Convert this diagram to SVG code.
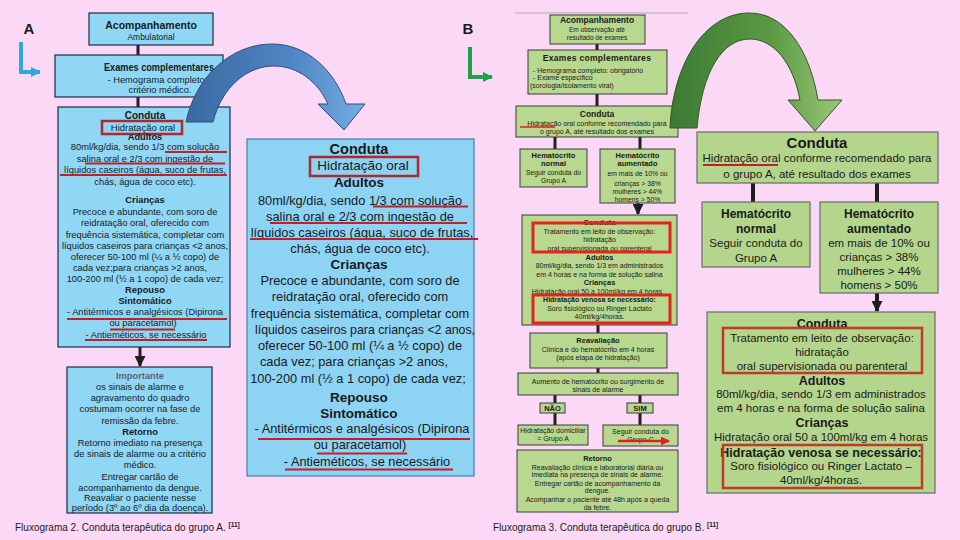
<svg xmlns="http://www.w3.org/2000/svg" width="960" height="540" viewBox="0 0 960 540">
<defs>
<style>
text{font-family:"Liberation Sans",Arial,sans-serif;fill:#1a1a1a}
.c{text-anchor:middle}
.b{font-weight:bold}
.boxA{fill:#8fd7f5;stroke:#1c2b45;stroke-width:1.2}
.boxA2{fill:#8dd3f3;stroke:#4a7fa8;stroke-width:1.2}
.boxB{fill:#b8d78f;stroke:#3a3a3a;stroke-width:1}
.boxB2{fill:#b4d58c;stroke:#6a6a6a;stroke-width:1.2}
.conA{stroke:#2b1b2b;stroke-width:3;fill:none}
.conB{stroke:#222;stroke-width:3;fill:none}
.conB2{stroke:#1e1e1e;stroke-width:4;fill:none}
.ul{stroke:#c0202a;stroke-width:2.2;fill:none}
.rb{fill:none;stroke:#b0282e;stroke-width:2.5}
.rb2{fill:none;stroke:#e3241b;stroke-width:3}
.rb3{fill:none;stroke:#c0392b;stroke-width:2.5}
.s1{font-size:9.3px}
.s2{font-size:12.8px}
.s3{font-size:7px}
.s4{font-size:11.5px}
</style>
<marker id="ah" viewBox="0 0 10 10" refX="9" refY="5" markerWidth="11" markerHeight="11" markerUnits="userSpaceOnUse" orient="auto">
<path d="M0,0 L10,5 L0,10 Z" fill="#1e1e1e"/>
</marker>
<marker id="ahr" viewBox="0 0 10 10" refX="9" refY="5" markerWidth="9" markerHeight="9" markerUnits="userSpaceOnUse" orient="auto">
<path d="M0,0 L10,5 L0,10 Z" fill="#e02020"/>
</marker>
<marker id="ahblue" viewBox="0 0 10 10" refX="9" refY="5" markerWidth="10" markerHeight="10" markerUnits="userSpaceOnUse" orient="auto">
<path d="M0,0 L10,5 L0,10 Z" fill="#29abe2"/>
</marker>
<marker id="ahgreen" viewBox="0 0 10 10" refX="9" refY="5" markerWidth="10" markerHeight="10" markerUnits="userSpaceOnUse" orient="auto">
<path d="M0,0 L10,5 L0,10 Z" fill="#1fa04a"/>
</marker>
<linearGradient id="gBlue" x1="0" y1="0" x2="1" y2="0">
<stop offset="0" stop-color="#3a6aa2"/>
<stop offset="0.6" stop-color="#4f86c4"/>
<stop offset="1" stop-color="#76aee6"/>
</linearGradient>
<linearGradient id="gGreen" x1="0" y1="0" x2="1" y2="0">
<stop offset="0" stop-color="#3c7a34"/>
<stop offset="0.6" stop-color="#5c9a44"/>
<stop offset="1" stop-color="#9cc87a"/>
</linearGradient>
</defs>

<rect x="0" y="0" width="960" height="540" fill="#fbd8f6"/>

<!-- Labels -->
<g id="labelA">
<text x="29" y="34" class="c b" font-size="15">A</text>
<path d="M21 42 V72 H40" stroke="#29abe2" stroke-width="4" fill="none" marker-end="url(#ahblue)"/>
</g>
<g id="labelB">
<text x="468" y="34" class="c b" font-size="15">B</text>
<path d="M470 47 V77 H492" stroke="#1fa04a" stroke-width="4" fill="none" marker-end="url(#ahgreen)"/>
</g>
<line x1="515" y1="13" x2="688" y2="13" stroke="#b0a8b0" stroke-width="1"/>

<!-- Connectors -->
<g id="connectors">
<line class="conA" x1="138" y1="45" x2="138" y2="55"/>
<line class="conA" x1="138" y1="97" x2="138" y2="107"/>
<line class="conA" x1="140" y1="347" x2="140" y2="366" marker-end="url(#ah)"/>
<line class="conB" x1="597" y1="44" x2="597" y2="50"/>
<line class="conB" x1="597" y1="94" x2="597" y2="106"/>
<line class="conB" x1="555" y1="137" x2="555" y2="149"/>
<line class="conB" x1="640" y1="137" x2="640" y2="149"/>
<line class="conB" x1="638" y1="203" x2="638" y2="214" marker-end="url(#ah)"/>
<line class="conB" x1="598" y1="325" x2="598" y2="333"/>
<line class="conB" x1="598" y1="368" x2="598" y2="373"/>
<line class="conB" x1="555" y1="395" x2="555" y2="403"/>
<line class="conB" x1="640" y1="395" x2="640" y2="403"/>
<line class="conB" x1="555" y1="413" x2="555" y2="425"/>
<line class="conB" x1="640" y1="413" x2="640" y2="425"/>
<line class="conB2" x1="753" y1="183" x2="753" y2="202"/>
<line class="conB2" x1="877" y1="183" x2="877" y2="202"/>
<line class="conB2" x1="877" y1="293" x2="877" y2="311" marker-end="url(#ah)"/>
</g>

<!-- Group A flowchart (left) -->
<g id="a1">
<rect class="boxA" x="89" y="13" width="124" height="32"/>
<text x="151" y="29" class="c b" font-size="10.5">Acompanhamento</text>
<text x="151" y="40" class="c" font-size="8.5">Ambulatorial</text>
</g>
<g id="a2">
<rect class="boxA" x="55" y="55" width="168" height="42"/>
<text x="159" y="70.5" class="c b" font-size="10" textLength="110" lengthAdjust="spacingAndGlyphs">Exames complementares</text>
<text x="160" y="82.5" class="c s1">- Hemograma completo a</text>
<text x="160" y="93" class="c s1">critério médico.</text>
</g>
<g id="a3">
<rect class="boxA" x="58" y="107" width="172" height="240"/>
<text x="145" y="119" class="c b" font-size="10">Conduta</text>
<text x="143" y="130.5" class="c" font-size="9.5">Hidratação oral</text>
<rect class="rb" x="102" y="121" width="80" height="13"/>
<text x="145" y="140" class="c b s1">Adultos</text>
<text x="145" y="150" class="c s1">80ml/kg/dia, sendo 1/3 com solução</text>
<text x="145" y="161.5" class="c s1">salina oral e 2/3 com ingestão de</text>
<text x="145" y="173" class="c s1">líquidos caseiros (água, suco de frutas,</text>
<text x="145" y="184.5" class="c s1">chás, água de coco etc).</text>
<text x="145" y="203" class="c b s1">Crianças</text>
<text x="145" y="215" class="c s1">Precoce e abundante, com soro de</text>
<text x="145" y="226" class="c s1">reidratação oral, oferecido com</text>
<text x="145" y="237.5" class="c s1">frequência sistemática, completar com</text>
<text x="145" y="249" class="c s1">líquidos caseiros para crianças &lt;2 anos,</text>
<text x="145" y="260" class="c s1">oferecer 50-100 ml (¼ a ½ copo) de</text>
<text x="140" y="271" class="c s1">cada vez;para crianças &gt;2 anos,</text>
<text x="145" y="282" class="c s1">100-200 ml (½ a 1 copo) de cada vez;</text>
<text x="145" y="293" class="c b s1">Repouso</text>
<text x="145" y="304" class="c b s1">Sintomático</text>
<text x="145" y="315" class="c s1">- Antitérmicos e analgésicos (Dipirona</text>
<text x="143" y="326" class="c s1">ou paracetamol)</text>
<text x="146" y="337.5" class="c s1">- Antieméticos, se necessário</text>
<line class="ul" x1="165" y1="152" x2="227" y2="152"/>
<line class="ul" x1="85" y1="163.5" x2="225" y2="163.5"/>
<line class="ul" x1="60" y1="175" x2="227" y2="175"/>
<line class="ul" x1="67" y1="319" x2="227" y2="319"/>
<line class="ul" x1="110" y1="329.5" x2="175" y2="329.5"/>
<line class="ul" x1="85" y1="340" x2="207" y2="340"/>
</g>
<g id="a4">
<rect class="boxA" x="67" y="367" width="145" height="146"/>
<text x="140" y="378.5" class="c b s1" style="fill:#6b5b7b">Importante</text>
<text x="140" y="390" class="c s1">os sinais de alarme e</text>
<text x="140" y="400.5" class="c s1">agravamento do quadro</text>
<text x="140" y="411.5" class="c s1">costumam ocorrer na fase de</text>
<text x="140" y="423.5" class="c s1">remissão da febre.</text>
<text x="140" y="435" class="c b s1">Retorno</text>
<text x="140" y="446" class="c s1">Retorno imediato na presença</text>
<text x="140" y="457" class="c s1">de sinais de alarme  ou a critério</text>
<text x="140" y="468" class="c s1">médico.</text>
<text x="140" y="479.5" class="c s1">Entregar cartão de</text>
<text x="140" y="490.5" class="c s1">acompanhamento da dengue.</text>
<text x="140" y="500.5" class="c s1">Reavaliar o paciente nesse</text>
<text x="140" y="511" class="c s1">período (3º ao 6º dia da doença).</text>
</g>

<!-- Blue curved arrow -->
<path d="M186 122 C195 78 230 44 272 44 C307 44 334 70 346 104 L365 104 L344 130 L318 104 L328 104 C318 82 298 66 274 66 C248 66 222 86 213 122 Z" fill="url(#gBlue)" stroke="#2e4f7a" stroke-width="1"/>

<!-- Enlarged Group A conduta -->
<g id="a3zoom">
<rect class="boxA2" x="247" y="139" width="227" height="337"/>
<text x="359" y="154" class="c b" font-size="14.5">Conduta</text>
<text x="363" y="170" class="c" font-size="13.5">Hidratação oral</text>
<rect class="rb" x="310" y="157" width="108" height="19"/>
<text x="359" y="186.5" class="c b" font-size="13.5">Adultos</text>
<text x="360" y="204.5" class="c s2">80ml/kg/dia, sendo 1/3 com solução</text>
<text x="360" y="220.5" class="c s2">salina oral e 2/3 com ingestão de</text>
<text x="362" y="236.5" class="c s2">líquidos caseiros (água, suco de frutas,</text>
<text x="360" y="252.5" class="c s2">chás, água de coco etc).</text>
<text x="359" y="268.5" class="c b" font-size="13.5">Crianças</text>
<text x="360" y="284.5" class="c s2">Precoce e abundante, com soro de</text>
<text x="360" y="301" class="c s2">reidratação oral, oferecido com</text>
<text x="360" y="317.5" class="c s2">frequência sistemática, completar com</text>
<text x="365" y="333.5" class="c s2" textLength="220" lengthAdjust="spacingAndGlyphs">líquidos caseiros para crianças &lt;2 anos,</text>
<text x="360" y="349.5" class="c s2">oferecer 50-100 ml (¼ a ½ copo) de</text>
<text x="354" y="366" class="c s2">cada vez; para crianças &gt;2 anos,</text>
<text x="358" y="382.5" class="c s2">100-200 ml (½ a 1 copo) de cada vez;</text>
<text x="359" y="401.5" class="c b" font-size="13.5">Repouso</text>
<text x="359" y="417.5" class="c b" font-size="13.5">Sintomático</text>
<text x="362" y="432.5" class="c s2">- Antitérmicos e analgésicos (Dipirona</text>
<text x="360" y="449" class="c s2">ou paracetamol)</text>
<text x="367" y="466" class="c s2">- Antieméticos, se necessário</text>
<line class="ul" x1="373" y1="206.5" x2="468" y2="206.5" stroke-width="2.5"/>
<line class="ul" x1="270" y1="223" x2="467" y2="223" stroke-width="2.5"/>
<line class="ul" x1="250" y1="239" x2="478" y2="239" stroke-width="2.5"/>
<line class="ul" x1="258" y1="439" x2="470" y2="439" stroke-width="2.5"/>
<line class="ul" x1="317" y1="453.5" x2="407" y2="453.5" stroke-width="2.5"/>
<line class="ul" x1="285" y1="469.5" x2="453" y2="469.5" stroke-width="2.5"/>
</g>

<!-- Group B flowchart -->
<g id="b1">
<rect class="boxB" x="550" y="15" width="95" height="29"/>
<text x="597" y="23" class="c b" font-size="8.5">Acompanhamento</text>
<text x="597" y="32" class="c" font-size="6.5">Em observação até</text>
<text x="597" y="40" class="c" font-size="6.5">resultado de exames</text>
</g>
<g id="b2">
<rect class="boxB" x="528" y="50" width="139" height="44"/>
<text x="597" y="60.5" class="c b" font-size="8.5" letter-spacing="0.3">Exames complementares</text>
<text x="533" y="73" class="s3">- Hemograma completo: obrigatório</text>
<text x="533" y="80" class="s3">- Exame específico</text>
<text x="530" y="88" class="s3">(sorologia/isolamento viral)</text>
</g>
<g id="b3">
<rect class="boxB" x="516" y="106" width="162" height="31"/>
<text x="597" y="116.5" class="c b" font-size="8.5">Conduta</text>
<text x="597" y="125.5" class="c s3">Hidratação oral conforme recomendado para</text>
<text x="597" y="134" class="c s3">o grupo A, até resultado dos exames</text>
<line x1="520" y1="127" x2="555" y2="127" stroke="#e0201a" stroke-width="1.6"/>
</g>
<g id="b4">
<rect class="boxB" x="520" y="149" width="67" height="38"/>
<text x="553.5" y="158" class="c b" font-size="7.5">Hematócrito</text>
<text x="553.5" y="166" class="c b" font-size="7.5">normal</text>
<text x="553.5" y="175" class="c" font-size="6.8">Seguir conduta do</text>
<text x="553.5" y="183" class="c" font-size="6.8">Grupo A</text>
</g>
<g id="b5">
<rect class="boxB" x="600" y="149" width="75" height="54"/>
<text x="637.5" y="158" class="c b" font-size="7.5">Hematócrito</text>
<text x="637.5" y="166" class="c b" font-size="7.5">aumentado</text>
<text x="637.5" y="176" class="c" font-size="6.8">em mais de 10% ou</text>
<text x="637.5" y="185.5" class="c" font-size="6.8">crianças &gt; 38%</text>
<text x="637.5" y="193.5" class="c" font-size="6.8">mulheres &gt; 44%</text>
<text x="637.5" y="201.5" class="c" font-size="6.8">homens &gt; 50%</text>
</g>
<g id="b6">
<rect class="boxB" x="522" y="215" width="155" height="110"/>
<text x="599.5" y="225" class="c b" font-size="8">Conduta</text>
<text x="599.5" y="234" class="c s3">Tratamento em leito de observação:</text>
<text x="599.5" y="242" class="c s3">hidratação</text>
<text x="599.5" y="251" class="c s3">oral supervisionada ou parenteral</text>
<text x="599.5" y="260" class="c b" font-size="7.5">Adultos</text>
<text x="599.5" y="268" class="c s3">80ml/kg/dia, sendo 1/3 em administrados</text>
<text x="599.5" y="276.5" class="c s3">em 4 horas e na forma de solução salina</text>
<text x="599.5" y="285" class="c b" font-size="7.5">Crianças</text>
<text x="597" y="293.5" class="c s3">Hidratação oral 50 a 100ml/kg em 4 horas</text>
<text x="599.5" y="302" class="c b s3">Hidratação venosa se necessário:</text>
<text x="599.5" y="310.5" class="c s3">Soro fisiológico ou Ringer Lactato</text>
<text x="599.5" y="319" class="c s3">40ml/kg/4horas.</text>
<rect class="rb2" x="533" y="223" width="137" height="29"/>
<rect class="rb2" x="533" y="295" width="137" height="28"/>
</g>
<g id="b7">
<rect class="boxB" x="530" y="333" width="137" height="35"/>
<text x="598" y="343" class="c b" font-size="7.5">Reavaliação</text>
<text x="598" y="352" class="c s3">Clínica e do hematócrito em 4 horas</text>
<text x="598" y="360" class="c s3">(após etapa de hidratação)</text>
</g>
<g id="b8">
<rect class="boxB" x="518" y="373" width="160" height="22"/>
<text x="598" y="383.5" class="c s3">Aumento de hematócrito ou surgimento de</text>
<text x="598" y="391.5" class="c s3">sinais de alarme</text>
</g>
<g id="b9">
<rect class="boxB" x="540" y="403" width="25" height="10"/>
<text x="552.5" y="411" class="c b" font-size="7.5">NÃO</text>
</g>
<g id="b10">
<rect class="boxB" x="627" y="403" width="26" height="10"/>
<text x="640" y="411" class="c b" font-size="7.5">SIM</text>
</g>
<g id="b11">
<rect class="boxB" x="518" y="425" width="70" height="20"/>
<text x="553" y="433" class="c s3">Hidratação domiciliar</text>
<text x="553" y="441" class="c s3">= Grupo A</text>
</g>
<g id="b12">
<rect class="boxB" x="603" y="425" width="75" height="21"/>
<text x="640.5" y="434" class="c s3">Seguir conduta do</text>
<text x="640.5" y="442" class="c s3">Grupo C</text>
<line x1="618" y1="441" x2="669" y2="441" stroke="#e02020" stroke-width="2.5" marker-end="url(#ahr)"/>
</g>
<g id="b13">
<rect class="boxB" x="517" y="450" width="161" height="62"/>
<text x="597.5" y="460.5" class="c b" font-size="7.5">Retorno</text>
<text x="597.5" y="469.5" class="c s3">Reavaliação clínica e laboratorial diária ou</text>
<text x="597.5" y="477" class="c s3">imediata na presença de sinais de alarme.</text>
<text x="597.5" y="485.5" class="c s3">Entregar cartão de acompanhamento da</text>
<text x="597.5" y="493" class="c s3">dengue.</text>
<text x="597.5" y="501.5" class="c s3">Acompanhar o paciente até 48h após a queda</text>
<text x="597.5" y="509.5" class="c s3">da febre.</text>
</g>

<!-- Green curved arrow -->
<path d="M670 128 C673 64 704 14 748 13 C786 12 810 52 818 100 L842 100 L815 131 L788 100 L800 100 C793 62 773 39 750 39 C722 39 702 72 697 128 Z" fill="url(#gGreen)" stroke="#2f5a28" stroke-width="1"/>

<!-- Enlarged Group B -->
<g id="c1">
<rect class="boxB2" x="697" y="132" width="241" height="51"/>
<text x="817" y="147.5" class="c b" font-size="15">Conduta</text>
<text x="817" y="162" class="c s4">Hidratação oral conforme recomendado para</text>
<text x="817" y="177.5" class="c s4">o grupo A, até resultado dos exames</text>
<line x1="703" y1="165" x2="778" y2="165" stroke="#c0202a" stroke-width="2"/>
</g>
<g id="c2">
<rect class="boxB2" x="702" y="202" width="108" height="65"/>
<text x="756" y="217.5" class="c b" font-size="12">Hematócrito</text>
<text x="756" y="232.5" class="c b" font-size="12">normal</text>
<text x="756" y="247" class="c s4">Seguir conduta do</text>
<text x="756" y="261.5" class="c s4">Grupo A</text>
</g>
<g id="c3">
<rect class="boxB2" x="820" y="202" width="118" height="91"/>
<text x="879" y="217.5" class="c b" font-size="12">Hematócrito</text>
<text x="879" y="232.5" class="c b" font-size="12">aumentado</text>
<text x="879" y="246.5" class="c s4">em mais de 10% ou</text>
<text x="879" y="261" class="c s4">crianças &gt; 38%</text>
<text x="879" y="274.5" class="c s4">mulheres &gt; 44%</text>
<text x="879" y="288.5" class="c s4">homens &gt; 50%</text>
</g>
<g id="c4">
<rect class="boxB2" x="707" y="312" width="228" height="181"/>
<text x="822" y="327.5" class="c b" font-size="12.5">Conduta</text>
<text x="822" y="342" class="c s4">Tratamento em leito de observação:</text>
<text x="822" y="356" class="c s4">hidratação</text>
<text x="822" y="370" class="c s4">oral supervisionada ou parenteral</text>
<text x="822" y="384.5" class="c b" font-size="12.5">Adultos</text>
<text x="821" y="398" class="c s4">80ml/kg/dia, sendo 1/3 em administrados</text>
<text x="821" y="412" class="c s4">em 4 horas e na forma de solução salina</text>
<text x="822" y="426.5" class="c b" font-size="12.5">Crianças</text>
<text x="821" y="441" class="c s4">Hidratação oral 50 a 100ml/kg em 4 horas</text>
<text x="821" y="456.5" class="c b" font-size="12.5">Hidratação venosa se necessário:</text>
<text x="821" y="470" class="c s4">Soro fisiológico ou Ringer Lactato –</text>
<text x="821" y="484" class="c s4">40ml/kg/4horas.</text>
<rect class="rb3" x="723" y="328" width="199" height="45"/>
<rect class="rb3" x="723" y="445" width="199" height="43"/>
</g>

<!-- Captions -->
<text x="15" y="531" font-size="10" style="fill:#222">Fluxograma 2. Conduta terapêutica do grupo A. <tspan font-size="6.5" font-weight="bold" dy="-4">[11]</tspan></text>
<text x="493" y="531" font-size="10" style="fill:#222">Fluxograma 3. Conduta terapêutica do grupo B. <tspan font-size="6.5" font-weight="bold" dy="-4">[11]</tspan></text>
</svg>
